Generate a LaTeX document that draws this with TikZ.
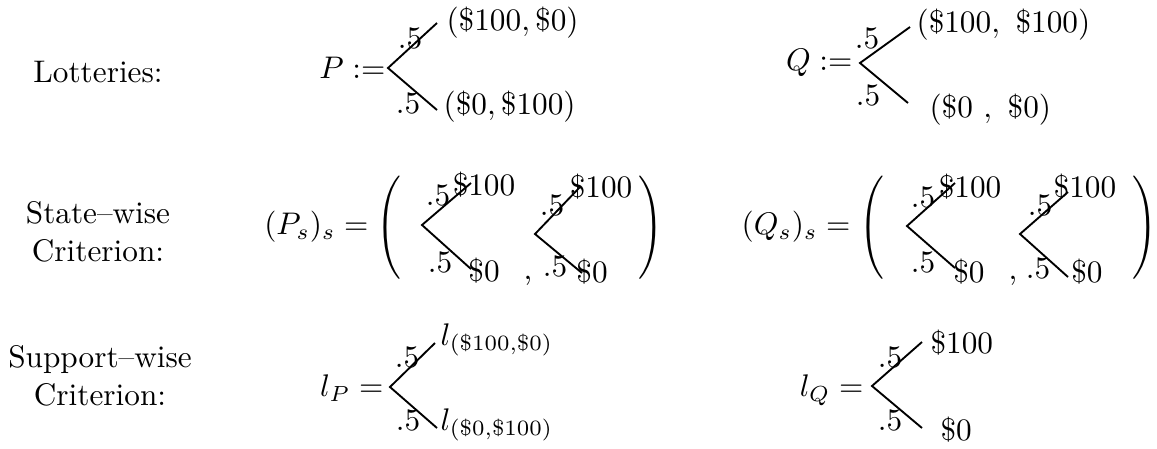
\documentclass[tikz,border=0pt]{standalone}
\usepackage{graphicx}

\begin{document}
\begin{tikzpicture}[
    x=0.32pt, y=-0.32pt,
    every node/.style={inner sep=0pt},
    lbl/.style={align=center},
    prob/.style={},
    paren/.style={},
    branch/.style={line width=0.6pt}
  ]
    \useasboundingbox (0,0) rectangle (1157,448);

    \node[lbl] (lotteries) at (98,72) {Lotteries:};
    \node[lbl] (statewise) at (98,232) {State--wise\\Criterion:};
    \node[lbl] (supportwise) at (100,376) {Support--wise\\Criterion:};

    \node[anchor=east] (pdef) at (386,68) {$P :=$};
    \coordinate (pv) at (388,68);
    \coordinate (pu) at (437,23);
    \coordinate (pd) at (437,110);
    \node[prob] (pup) at (410,38) {.5};
    \node[prob] (pdp) at (408,103) {.5};
    \node[anchor=west] (pux) at (446,23) {$(\$100, \$0)$};
    \node[anchor=west] (pdx) at (443,107) {$(\$0, \$100)$};

    \node[anchor=east] (qdef) at (853,63) {$Q :=$};
    \coordinate (qv) at (860,63);
    \coordinate (qu) at (910,27);
    \coordinate (qd) at (908,103);
    \node[prob] (qup) at (867,38) {.5};
    \node[prob] (qdp) at (868,95) {.5};
    \node[anchor=west] (qux) at (916,25) {$(\$100,\ \$100)$};
    \node[anchor=west] (qdx) at (929,110) {$(\$0\ ,\ \$0)$};

    \node[anchor=east] (psdef) at (369,227) {$(P_s)_s =$};
    \node[paren] (psleft) at (389,228) {\scalebox{1}[1.1]{$\Bigg($}};
    \coordinate (psav) at (422,225);
    \coordinate (psau) at (471,183);
    \coordinate (psad) at (471,269);
    \node[prob] (psaup) at (438,195) {.5};
    \node[prob] (psadp) at (440,262) {.5};
    \node (psaux) at (484,185) {\$100};
    \node (psadx) at (484,271) {\$0};
    \node (pscomma) at (528,281) {,};
    \coordinate (psbv) at (535,234);
    \coordinate (psbu) at (580,187);
    \coordinate (psbd) at (582,273);
    \node[prob] (psbup) at (552,205) {.5};
    \node[prob] (psbdp) at (555,266) {.5};
    \node (psbux) at (601,187) {\$100};
    \node (psbdx) at (592,272) {\$0};
    \node[paren] (psright) at (651,228) {\scalebox{1}[1.1]{$\Bigg)$}};

    \node[anchor=east] (qsdef) at (851,227) {$(Q_s)_s =$};
    \node[paren] (qsleft) at (872,228) {\scalebox{1}[1.1]{$\Bigg($}};
    \coordinate (qsav) at (907,226);
    \coordinate (qsau) at (955,183);
    \coordinate (qsad) at (955,268);
    \node[prob] (qsaup) at (923,197) {.5};
    \node[prob] (qsadp) at (923,262) {.5};
    \node (qsaux) at (970,187) {\$100};
    \node (qsadx) at (969,272) {\$0};
    \node (qscomma) at (1013,281) {,};
    \coordinate (qsbv) at (1020,234);
    \coordinate (qsbu) at (1068,192);
    \coordinate (qsbd) at (1068,277);
    \node[prob] (qsbup) at (1040,205) {.5};
    \node[prob] (qsbdp) at (1038,268) {.5};
    \node (qsbux) at (1085,187) {\$100};
    \node (qsbdx) at (1087,272) {\$0};
    \node[paren] (qsright) at (1145,228) {\scalebox{1}[1.1]{$\Bigg)$}};

    \node[anchor=east] (lpdef) at (384,388) {$l_P =$};
    \coordinate (lpv) at (390,387);
    \coordinate (lpu) at (435,343);
    \coordinate (lpd) at (437,428);
    \node[prob] (lpup) at (407,357) {.5};
    \node[prob] (lpdp) at (408,420) {.5};
    \node[anchor=base west] (lpux) at (440,345) {$l_{(\$100,\$0)}$};
    \node[anchor=base west] (lpdx) at (440,430) {$l_{(\$0,\$100)}$};

    \node[anchor=east] (lqdef) at (864,390) {$l_Q =$};
    \coordinate (lqv) at (872,386);
    \coordinate (lqu) at (922,342);
    \coordinate (lqd) at (922,428);
    \node[prob] (lqup) at (890,357) {.5};
    \node[prob] (lqdp) at (890,420) {.5};
    \node[anchor=west] (lqux) at (930,343) {\$100};
    \node[anchor=west] (lqdx) at (940,430) {\$0};

    \draw[branch] (pu) -- (pv) -- (pd);
    \draw[branch] (qu) -- (qv) -- (qd);
    \draw[branch] (psau) -- (psav) -- (psad);
    \draw[branch] (psbu) -- (psbv) -- (psbd);
    \draw[branch] (qsau) -- (qsav) -- (qsad);
    \draw[branch] (qsbu) -- (qsbv) -- (qsbd);
    \draw[branch] (lpu) -- (lpv) -- (lpd);
    \draw[branch] (lqu) -- (lqv) -- (lqd);
  \end{tikzpicture}
\end{document}
